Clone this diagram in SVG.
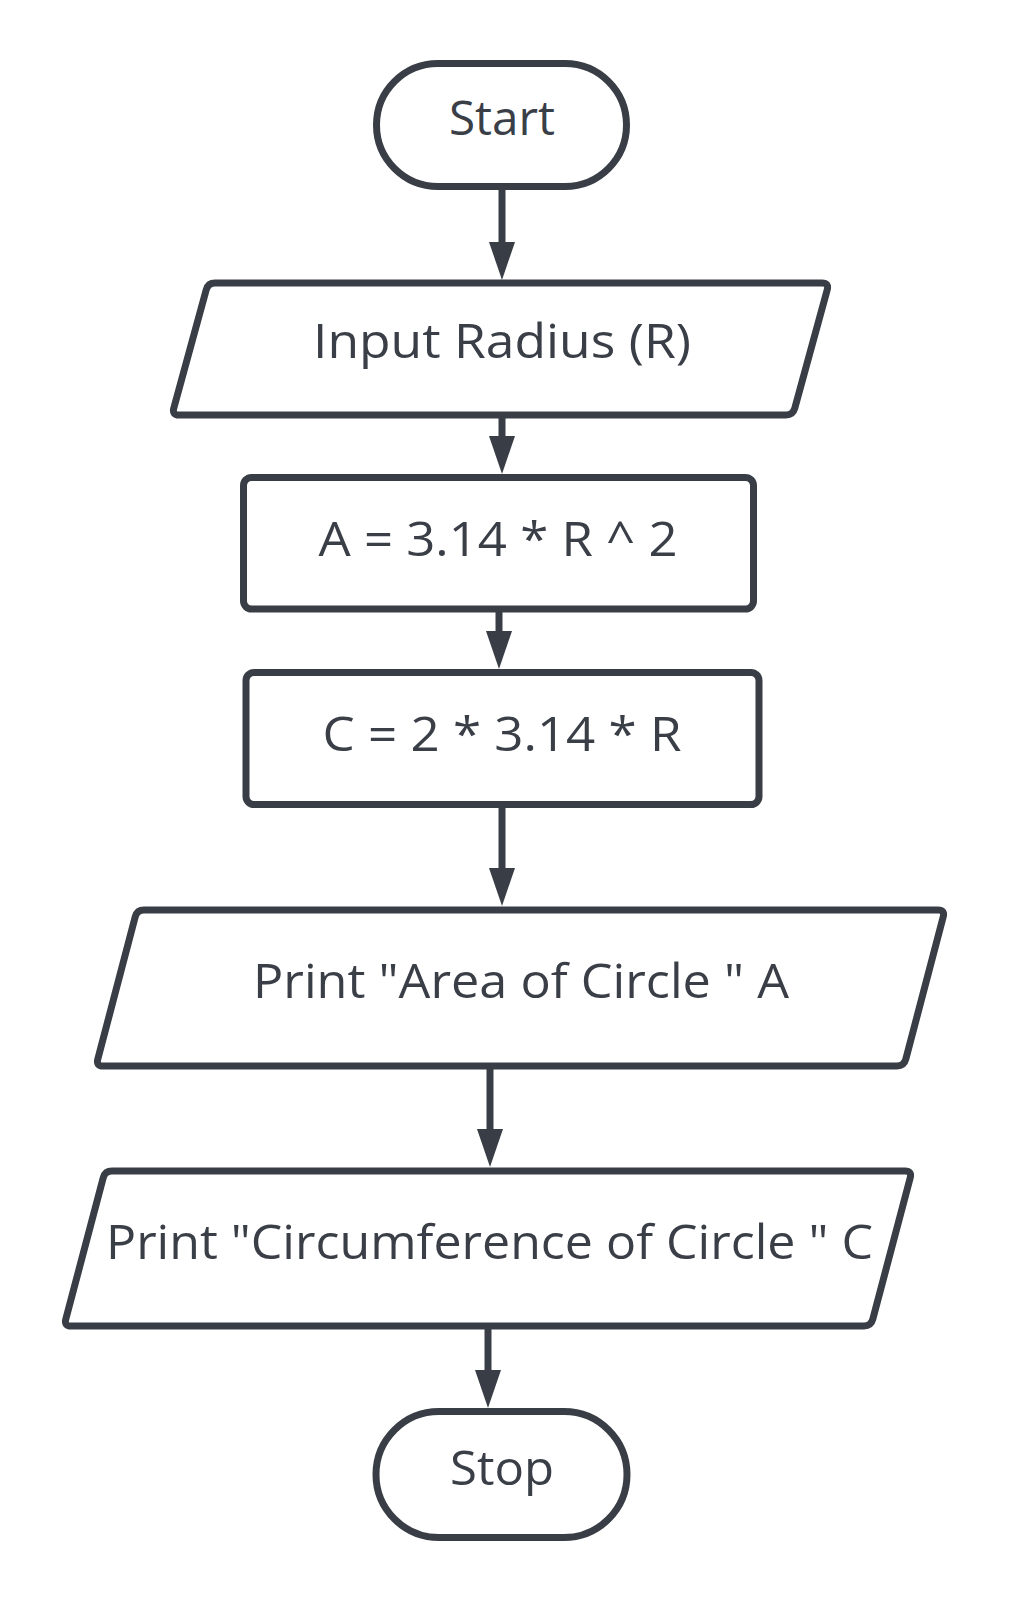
<svg xmlns="http://www.w3.org/2000/svg" width="1009" height="1600" viewBox="0 0 1009 1600">
<style>
.shape{fill:#ffffff;stroke:#393e46;stroke-width:7;stroke-linejoin:round}
.lbl{font-family:"Open Sans","Liberation Sans",Arial,sans-serif;font-size:47px;fill:#3a3e47;text-anchor:middle}
.conn{stroke:#393e46;stroke-width:7;fill:none}
</style>
<defs>
<marker id="arr" markerUnits="userSpaceOnUse" markerWidth="40" markerHeight="26" refX="2" refY="13" orient="auto">
<path d="M0,0 L38,13 L0,26 Z" fill="#393e46"/>
</marker>
</defs>
<rect width="1009" height="1600" fill="#ffffff"/>
<g id="connectors">
<path class="conn" d="M502,190 L502,244" marker-end="url(#arr)"/>
<path class="conn" d="M502,418 L502,438" marker-end="url(#arr)"/>
<path class="conn" d="M499,612 L499,633" marker-end="url(#arr)"/>
<path class="conn" d="M502,808 L502,870" marker-end="url(#arr)"/>
<path class="conn" d="M490,1069 L490,1131" marker-end="url(#arr)"/>
<path class="conn" d="M488,1329 L488,1372" marker-end="url(#arr)"/>
</g>
<g id="start">
<rect class="shape" x="376.5" y="63.5" width="250" height="123" rx="61.5"/>
<text class="lbl" x="502" y="135" textLength="106" lengthAdjust="spacingAndGlyphs">Start</text>
</g>
<g id="input">
<path class="shape" d="M215,283 L822,283 Q829,283 827.2,289.8 L794.8,408.2 Q793,415 786,415 L179,415 Q172,415 173.8,408.2 L206.2,289.8 Q208,283 215,283 Z"/>
<text class="lbl" x="502" y="358" textLength="378" lengthAdjust="spacingAndGlyphs">Input Radius (R)</text>
</g>
<g id="area">
<rect class="shape" x="243.5" y="477.5" width="510" height="131.5" rx="8"/>
<text class="lbl" x="498" y="556" textLength="359" lengthAdjust="spacingAndGlyphs">A = 3.14 * R ^ 2</text>
</g>
<g id="circ">
<rect class="shape" x="246" y="672.5" width="513" height="132" rx="8"/>
<text class="lbl" x="502" y="751" textLength="359" lengthAdjust="spacingAndGlyphs">C = 2 * 3.14 * R</text>
</g>
<g id="printArea">
<path class="shape" d="M144,910 L938,910 Q945,910 943.2,916.8 L905.8,1059.2 Q904,1066 897,1066 L103,1066 Q96,1066 97.8,1059.2 L135.2,916.8 Q137,910 144,910 Z"/>
<text class="lbl" x="521" y="998" textLength="536" lengthAdjust="spacingAndGlyphs">Print "Area of Circle " A</text>
</g>
<g id="printCirc">
<path class="shape" d="M112,1171 L905,1171 Q912,1171 910.2,1177.8 L872.8,1319.2 Q871,1326 864,1326 L71,1326 Q64,1326 65.8,1319.2 L103.2,1177.8 Q105,1171 112,1171 Z"/>
<text class="lbl" x="489.5" y="1259" textLength="767" lengthAdjust="spacingAndGlyphs">Print "Circumference of Circle " C</text>
</g>
<g id="stop">
<rect class="shape" x="376" y="1411.5" width="251" height="126" rx="63"/>
<text class="lbl" x="502" y="1485" textLength="104" lengthAdjust="spacingAndGlyphs">Stop</text>
</g>
</svg>
